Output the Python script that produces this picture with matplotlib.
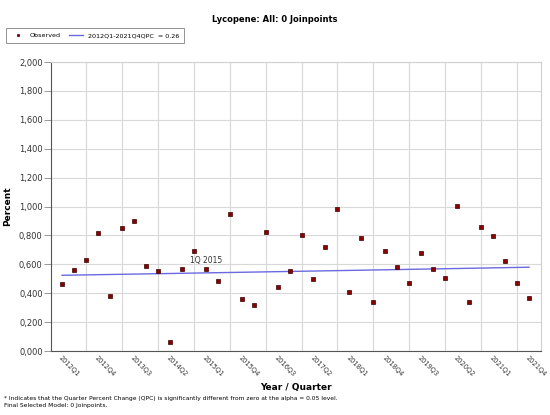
import numpy as np
import matplotlib
matplotlib.use("Agg")
import matplotlib.pyplot as plt
from matplotlib.ticker import FuncFormatter

# observed values, 2012Q1 .. 2021Q4
observed = [0.464, 0.563, 0.628, 0.814, 0.384, 0.853, 0.901, 0.591, 0.556, 0.062,
            0.568, 0.694, 0.568, 0.483, 0.947, 0.361, 0.317, 0.821, 0.443, 0.554,
            0.800, 0.499, 0.719, 0.984, 0.409, 0.782, 0.340, 0.694, 0.582, 0.471,
            0.676, 0.566, 0.506, 1.005, 0.338, 0.860, 0.793, 0.623, 0.469, 0.366]
quarters = ["%dQ%d" % (y, q) for y in range(2012, 2022) for q in range(1, 5)]
# fitted model (0 joinpoints)
fit_start = 0.524
qpc = 0.26

x = np.arange(len(observed))
fit = fit_start * (1 + qpc / 100.0) ** x

fig = plt.figure(figsize=(5.5, 4.15), dpi=100)
ax = fig.add_axes([51/550, 1-351/415, 490/550, 289/415])

ax.plot(x, fit, color="#6a6ae0", lw=1.0, label="2012Q1-2021Q4QPC  = 0.26", zorder=2)
ax.plot(x, observed, ls="none", marker="s", ms=3.4, mfc="#8b0000", mec="#3a0000",
        mew=0.5, label="Observed", zorder=3)
ax.text(12, observed[12] + 0.055, "1Q 2015", fontsize=5.5, color="#333333",
        ha="center", va="center")

ax.set_xlim(-0.92, 40.0)
ax.set_ylim(0, 2.0)
ax.set_yticks(np.arange(0, 2.01, 0.2))
ax.yaxis.set_major_formatter(FuncFormatter(lambda v, p: ("%.3f" % v).replace(".", ",")))
ax.set_xticks(x[::3])
ax.set_xticklabels(quarters[::3], rotation=-45, ha="left", rotation_mode="anchor",
                   fontsize=4.8, color="#333333")
ax.set_xticks(x[2::3], minor=True)
ax.tick_params(axis="x", which="both", length=0, pad=3)
ax.tick_params(axis="y", length=5, width=0.6, color="#888888", labelsize=6,
               labelcolor="#333333", pad=1)
ax.grid(axis="y", color="#d8d8d8", lw=0.8)
ax.grid(axis="x", which="minor", color="#d8d8d8", lw=0.8)
for s in ax.spines.values():
    s.set_color("#d0d0d0")
    s.set_linewidth(0.8)
ax.spines["left"].set_color("#555555")
ax.spines["bottom"].set_color("#555555")

ax.set_ylabel("Percent", fontsize=6.5, fontweight="bold")
ax.yaxis.set_label_coords(-39/490, 0.5)
ax.set_xlabel("Year / Quarter", fontsize=6.5, fontweight="bold")
ax.xaxis.set_label_coords(0.5, -32/289)
fig.text(0.5, 1-20/415, "Lycopene: All: 0 Joinpoints", fontsize=6,
         fontweight="bold", ha="center", va="center")

h, l = ax.get_legend_handles_labels()
leg = fig.legend(h[::-1], l[::-1], loc="upper left", bbox_to_anchor=(3/550, 1-25/415),
                 ncol=2, fontsize=4.6, frameon=True, fancybox=False, edgecolor="#777777",
                 handlelength=2.2, columnspacing=1.2, borderpad=0.7, markerscale=0.6)
leg.get_frame().set_linewidth(0.7)

fig.text(4/550, 1-398/415, "* Indicates that the Quarter Percent Change (QPC) is significantly "
         "different from zero at the alpha = 0.05 level.", fontsize=4.3, va="center")
fig.text(4/550, 1-405/415, "Final Selected Model: 0 Joinpoints.", fontsize=4.3, va="center")

fig.savefig("out.png", dpi=100)
